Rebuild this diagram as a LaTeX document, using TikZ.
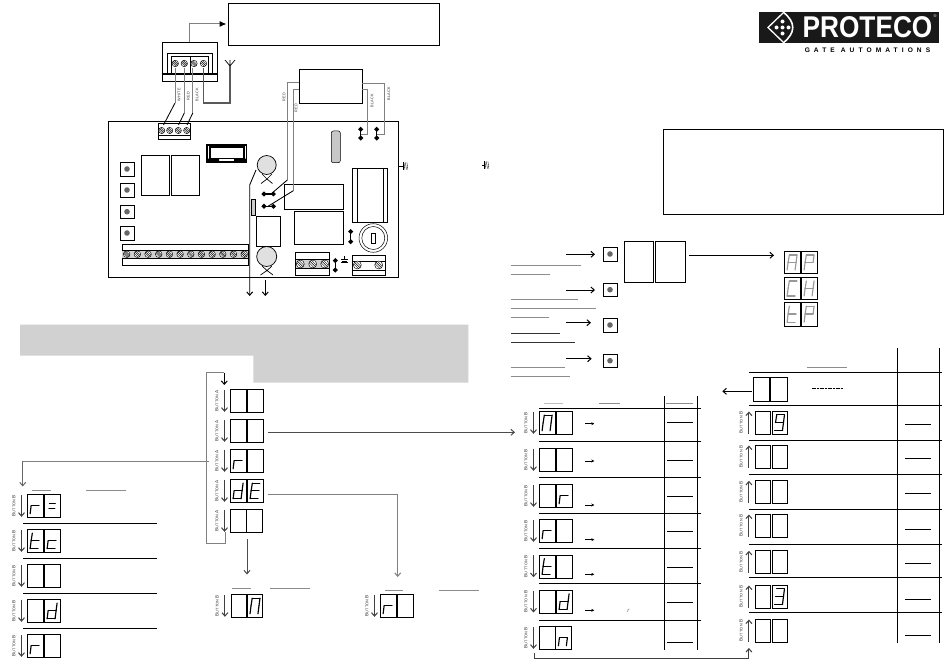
\documentclass[tikz,border=0pt]{standalone}
\usepackage{fontspec}
\setmainfont{Liberation Sans}
\newfontfamily\lblfont[LetterSpace=8]{Liberation Sans}
\newfontfamily\logofont[LetterSpace=62]{Liberation Sans}
\usetikzlibrary{arrows.meta,calc}
\definecolor{wire}{gray}{.5}
\definecolor{band}{gray}{.82}
\tikzset{
 x=1pt,y=-1pt,
 line width=.85pt,
 dbox/.style={draw,inner sep=0pt,outer sep=0pt,anchor=north west},
 seg/.style={line width=1.15pt,line cap=round,draw=#1},
 seg/.default=black,
 barb/.tip={Straight Barb[length=3.4pt,width=6pt,line width=1pt]},
 dn/.style={-barb},
 up/.style={barb-},
 grayline/.style={draw=wire,line width=1pt},
 stub/.style={draw=black!45,line width=.8pt},
 thin1/.style={line width=.85pt},
 jump/.style={line width=1.4pt,{Circle[length=4.6pt,width=4.6pt]}-{Circle[length=4.6pt,width=4.6pt]}},
 btn/.style={inner sep=0pt,text=black!80,font=\lblfont\fontsize{3.8}{4}\selectfont},
}
% segment paths of a seven-segment digit, local to a 15.3 x 23 box
\newcommand\sga{(5,3.8)--(12.5,3.8)}
\newcommand\sgb{(12.7,3.8)--(11.7,11.5)}
\newcommand\sgc{(11.7,11.5)--(10.7,19.5)}
\newcommand\sgd{(2.8,19.5)--(10.7,19.5)}
\newcommand\sge{(3.8,11.5)--(2.8,19.5)}
\newcommand\sgf{(5,3.8)--(3.8,11.5)}
\newcommand\sgg{(3.8,11.5)--(11.7,11.5)}
\newcommand\sgp{(5,9.5)--(11,9.5)}
\newcommand\sgq{(4.5,14.5)--(10.5,14.5)}
\expandafter\def\csname sg\endcsname{}
% \dg{name}{x}{y}{w}{h}{colour}{segments}
\newcommand\dg[7]{%
 \node[dbox,minimum width=#4pt,minimum height=#5pt] (#1) at (#2,#3) {};
 \begin{scope}[shift={(#2,#3)},xscale=#4/15.3,yscale=#5/23]
  \foreach \s in {#7}{\expandafter\let\expandafter\cursg\csname sg\s\endcsname
    \draw[seg=#6] \cursg;}
 \end{scope}}
% \drow[offset]{name}{x}{y}{left segs}{right segs}{dn|up}{letter}
\newcommand\btntext[1]{{\fontsize{4.6}{4}\selectfont B}UTTON {\fontsize{4.6}{4}\selectfont #1}}
\newcommand\drow[8][17]{%
 \dg{#2a}{#3}{#4}{15.4}{23}{black}{#5}
 \dg{#2b}{{#3+#1}}{#4}{15.4}{23}{black}{#6}
 \draw[#7,line width=.9pt,black!75] ([xshift=-5.8pt,yshift=-.5pt]#2a.north west) -- ([xshift=-5.8pt,yshift=.5pt]#2a.south west);
 \node[btn,rotate=90] (#2l) at ([xshift=-13.6pt]#2a.west) {\btntext{#8}};}
\newcommand\screw[3]{%
 \draw[line width=.45pt,fill=white] (#1,#2) circle (#3);
 \draw[line width=.55pt] ($(#1,#2)+(-.7*#3,-.7*#3)$)--($(#1,#2)+(.7*#3,.7*#3)$);
 \draw[line width=.4pt] ($(#1,#2)+(-.3*#3,-.9*#3)$)--($(#1,#2)+(.9*#3,.3*#3)$);
 \draw[line width=.4pt] ($(#1,#2)+(-.9*#3,-.3*#3)$)--($(#1,#2)+(.3*#3,.9*#3)$);}
\newcommand\bx[5]{\node[dbox,minimum width={(#4-#2)*1pt},minimum height={(#5-#3)*1pt}] (#1) at (#2,#3) {};}
\newcommand\gnd[2]{%
 \draw[line width=.45pt] (#1,{#2-4})--(#1,{#2+4});
 \foreach \d in {1.4,2.9,4.4}{\draw[line width=.35pt] ({#1+\d-.5},{#2-3.5})--({#1+\d+.5},{#2+3.5});}}
\newcommand\btnsw[3]{\bx{#1}{#2}{#3}{#2+13.4}{#3+13.4}
 \fill[black!60] (#1) circle (2.8);}
\begin{document}
\begin{tikzpicture}
\useasboundingbox (0,0) rectangle (950,666);
\fill[white] (0,0) rectangle (950,666);

% ---------- grey banner
\fill[band] (20,324.7) -- (468.3,324.7) -- (468.3,382.7) -- (253.3,382.7) -- (253.3,355.7) -- (20,355.7) -- cycle;

% ---------- logo
\fill[black!90] (759.3,11.7) rectangle (939.3,43.3);
\draw[white,line width=1.3pt] (783,13) -- (768,27.5) -- (783,42);
\draw[white,line width=1.6pt] (783,12) .. controls (796,22) and (796,33) .. (783,43);
\foreach \p in {(782.5,21.5),(782.5,33.5),(776.5,27.5),(788.5,27.5),(782.5,27.5)}{\fill[white] \p circle (2);}
\node[text=white,inner sep=0pt,font=\bfseries\fontsize{30}{30}\selectfont,xscale=.875] (logoname) at (867.5,27.5) {PROTECO};
\node[text=white,inner sep=0pt,font=\fontsize{4}{4}\selectfont] (logoreg) at (935,15.8) {®};
\node[inner sep=0pt,font=\logofont\bfseries\fontsize{6.6}{7}\selectfont] (logosub) at (867.5,50) {GATE AUTOMATIONS};

% ---------- top note box, wiring block
\bx{note}{228.5}{3.5}{439.5}{45}
\bx{block}{162}{42}{217}{81}
\bx{blockin}{167.5}{53}{212.5}{74}
\draw (171.5,56) rectangle (208.5,74) (190.5,56)--(190.5,74);
\draw[line width=1.4pt] (162,74) -- (217,74);
\foreach \x in {175.3,184.3,194,203.5}{\screw{\x}{63.5}{3.2}}
\draw[grayline,-{Latex[length=7pt,width=6pt,black]}] (block.north) |- (226.5,24);
\coordinate (antbase) at (230,103);
\coordinate (anttop) at (230,60);
\draw[line width=1.2pt,black!65] (203.5,68) -- (203.5,103) -- (antbase) -- (230,66);
\draw[line width=.7pt] (230,66) -- (225,60) (230,66) -- (235,60) (anttop)--(230,66);
\draw[grayline] (175,68) -- (175,103);
\draw[thin1] (175,103) -- (163.5,125);
\draw[grayline] (184.3,68) -- (184.3,113);
\draw[thin1] (184.3,113) -- (178.5,125);
\draw[grayline] (192.8,68) -- (192.8,113);
\draw[thin1] (192.8,113) -- (187,125);
\foreach \t/\x/\y in {WHITE/179/95,RED/188.3/96,BLACK/197/95}{
 \node[btn,rotate=90] (w\t) at (\x,\y) {\t};}

% ---------- controller board
\bx{board}{108.5}{121.5}{398.5}{277.5}
\bx{termtop}{158}{123.5}{190.5}{139.5}
\draw (158,135)--(190.5,135);
\foreach \x in {161.7,169.7,178.3,186.7}{\screw{\x}{130.5}{3.1}}
\draw[line width=1.5pt] (207,145) rectangle (246.3,162);
\draw[line width=1.1pt,fill=white] (210,147) rectangle (244,158.7);
\fill (207,158.7) rectangle (219,162.5) (234,158.7) rectangle (246.3,162.5);
\bx{dispa}{141.3}{155.3}{168.7}{195.3}
\bx{dispb}{171.3}{155.3}{198.7}{195.3}
\btnsw{b1}{120.3}{162.3}
\btnsw{b2}{120.3}{183.3}
\btnsw{b3}{120.3}{205}
\btnsw{b4}{120.3}{226.3}
\bx{longterm}{121.7}{244.3}{248.5}{265.3}
\fill[band] (122,250) rectangle (248,258.3);
\draw (121.7,250)--(248.5,250) (121.7,258.3)--(248.5,258.3);
\foreach \i in {0,...,11}{\screw{{126.7+\i*10.68}}{254.2}{3.3}}
\draw[line width=.7pt,fill=black!12] (266.7,165) circle (9.5);
\draw[line width=.7pt] (262,174) -- (267,179) -- (261,183.5) (272,174)--(267,179)--(272.5,183.5);
\draw[line width=.7pt,fill=black!12] (266.7,256.5) circle (10);
\draw[line width=.7pt] (262,266) -- (267,270.5) -- (260.5,275) (272,266)--(267,270.5)--(273,275);
\coordinate (outa) at (249.7,296);
\coordinate (outb) at (265.3,296);
\draw[thin1,dn] (256,170) -- (249.7,185) -- (outa);
\draw[thin1,dn] (265.3,280) -- (outb);
\draw[fill=black!20,line width=.5pt] (251.7,199) rectangle (255.3,215);
\bx{smallbox}{256.3}{216.3}{279.7}{245.7}
\bx{rela}{284.3}{184.3}{343.3}{209.3}
\bx{relb}{294.3}{211.3}{343.3}{244.3}
\bx{trafo}{299.3}{69.3}{361.7}{103.3}
\draw[jump] (261.7,194) coordinate (j1a) -- (275.7,194) coordinate (j1b);
\draw[jump] (261.7,206.3) coordinate (j2a) -- (275.7,206.3) coordinate (j2b);
\draw[grayline] (299.3,82.7) -- (287.3,82.7) -- (287.3,180);
\draw[thin1] (287.3,180) -- (271,194);
\draw[grayline] (299.3,90) -- (293.3,90) -- (293.3,190.7);
\draw[thin1] (293.3,190.7) -- (268,206.3);
\node[btn,rotate=90] (rl1) at (284,97) {RED};
\node[btn,rotate=90] (rl2) at (296,108) {RED};
\node[btn,rotate=90] (bl1) at (372,101) {BLACK};
\node[btn,rotate=90] (bl2) at (388.7,94) {BLACK};
\draw[jump] (360.7,127) coordinate (j3a) -- (360.7,140.3) coordinate (j3b);
\draw[jump] (376.7,127) coordinate (j4a) -- (376.7,140.3) coordinate (j4b);
\draw[grayline] (361.7,89.3) -- (367.3,89.3) -- (367.3,134.3) -- (360.7,134.3);
\draw[grayline] (361.7,83.3) -- (384.3,83.3) -- (384.3,134.3) -- (376.7,134.3);
\draw[line width=.5pt,fill=black!22,rounded corners=2pt] (331.3,131) rectangle (340.3,162.7);
\bx{relay}{352.3}{167.7}{387.3}{222.3}
\draw (356.7,167.7)--(356.7,222.3) (383.3,167.7)--(383.3,222.3);
\draw[line width=.5pt] (373.3,238) circle (14.3);
\draw[line width=.5pt] (373.3,238) circle (11.5);
\draw (371.3,232.7) rectangle (375.3,243.3);
\draw[jump] (350.7,229.3) -- (350.7,244);
\bx{termc}{295.3}{252.3}{329.3}{275.3}
\draw (295.3,259.3)--(329.3,259.3) (295.3,268.3)--(329.3,268.3);
\fill[band] (296,259.8) rectangle (329,267.8);
\foreach \x in {300.3,312.7,324.7}{\screw{\x}{264}{4}}
\draw[jump] (335.3,258.3) -- (335.3,272.3);
\draw[line width=.5pt] (344.5,256)--(344.5,259) (341,259.5)--(348,259.5) (342,261)--(347,261) (341,262.5)--(348,262.5);
\bx{termd}{352.3}{254.7}{384.7}{275.3}
\draw (352.3,260.7)--(384.7,260.7) (352.3,269.7)--(384.7,269.7);
\foreach \x in {357.3,378.7}{\screw{\x}{265}{4}}
\draw[line width=.6pt] (398.5,166)--(403,166);
\gnd{403}{166}
\draw[line width=.6pt] (482,165)--(484,165);
\gnd{484}{165}

% ---------- right info box and front panel
\bx{infobox}{663}{129}{943}{214}
\foreach \i/\y in {1/247.3,2/283,3/318.3,4/354}{\btnsw{s\i}{603.3}{\y}}
\coordinate (sa1) at (566,254.3);\coordinate (sa2) at (566,290);\coordinate (sa3) at (566,322.7);\coordinate (sa4) at (566,358.7);
\draw[thin1,dn] (sa1) -- (595,254.3);
\draw[thin1,dn] (sa2) -- (595,290);
\draw[thin1,dn] (sa3) -- (591,322.7);
\draw[thin1,dn] (sa4) -- (591.7,358.7);
\bx{pana}{624.3}{241.3}{653.4}{282.3}
\bx{panb}{655.6}{241.3}{684.7}{282.3}
\coordinate (panto) at (774,255.3);
\draw[thin1,dn] (689,255.3) -- (panto);
\dg{apa}{784.3}{251.3}{15.4}{22}{black!40}{a,b,c,e,f,g}
\dg{apb}{801.3}{251.3}{15.4}{22}{black!40}{a,b,e,f,g}
\dg{cha}{784.3}{277.3}{15.4}{22}{black!40}{a,d,e,f}
\dg{chb}{801.3}{277.3}{15.4}{22}{black!40}{b,c,e,f,g}
\dg{tpa}{784.3}{302.3}{15.4}{23.4}{black!40}{d,e,f,g}
\dg{tpb}{801.3}{302.3}{15.4}{23.4}{black!40}{a,b,e,f,g}
\foreach \y/\e in {265.3/580.7,274.3/550,299.7/578,308.7/596,317.7/549.3,367.3/565,376.3/570}{\draw[stub] (510.7,\y)--(\e,\y);}
\draw[line width=.7pt,black!80] (511.3,333.3)--(560,333.3) (511.3,342.3)--(574.7,342.3);

% ---------- central menu column
\drow{ca}{230.3}{389.3}{}{}{dn}{A}
\drow{cb}{230.3}{419.3}{}{}{dn}{A}
\drow{cc}{230.3}{449.3}{e,g}{}{dn}{A}
\drow{cd}{230.3}{479.3}{b,c,d,e,g}{a,d,e,f,g}{dn}{A}
\drow[16]{ce}{230.3}{509.3}{}{}{dn}{A}
\coordinate (loopin) at (224.3,385);
\draw[grayline] (225.7,532) -- (225.7,543) -- (206,543) -- (206,372.7) -- (224.3,372.7);
\draw[thin1,dn] (224.3,372.7) -- (loopin);
\coordinate (lefttop) at (22.7,486.5);
\draw[grayline] (209,461) -- (22.7,461);
\draw[line width=1.2pt,dn,black!60] (22.7,461) -- (lefttop);
\coordinate (tolist) at (515,432.3);
\draw[line width=.9pt,dn,black!70] (267.7,432.3) -- (tolist);
\coordinate (toradio) at (397.7,577);
\draw[grayline,dn] (267.7,494.7) -| (toradio);
\coordinate (tobottom) at (247,574.5);
\draw[thin1,black!70,dn] (247,539) -- (tobottom);

% ---------- left column
\drow{la}{27.3}{494.3}{e,g}{p,q}{dn}{B}
\drow{lb}{27.3}{529.3}{d,e,f,g}{d,e,g}{dn}{B}
\drow{lc}{27.3}{564.3}{}{}{dn}{B}
\drow{ld}{27.3}{599.3}{}{b,c,d,e,g}{dn}{B}
\drow{le}{27.3}{634.3}{e,g}{}{dn}{B}
\foreach \y in {523,558.3,593.3,628.3}{\draw (23.3,\y)--(156.7,\y);}
\draw[stub] (31.7,490)--(50.7,490) (86.3,490)--(126,490);

% ---------- lower middle displays
\drow[16.5]{ma}{230.7}{594.3}{}{a,b,c,e,f}{dn}{B}
\drow{mb}{380.3}{594.3}{e,g}{}{dn}{B}
\draw[stub] (232,588)--(250.7,588) (270,588)--(309.7,588);
\draw[stub] (385,590.3)--(403.3,590.3) (439.3,590.3)--(479,590.3);

% ---------- table, left half
\drow{ra}{539.3}{411.3}{a,b,c,e,f}{}{dn}{B}
\drow{rb}{539.3}{448.3}{}{}{dn}{B}
\drow{rc}{539.3}{484.3}{}{e,g}{dn}{B}
\drow{rd}{539.3}{519.3}{e,g}{}{dn}{B}
\drow{re}{539.3}{554.7}{d,e,f,g}{}{dn}{B}
\drow{rf}{539.3}{590}{}{b,c,d,e,g}{dn}{B}
\drow[16.3]{rg}{539.3}{626.3}{}{c,e,g}{dn}{B}
\foreach \y in {408.3,441.3,477.3,513.3,548.3,583.3,620.3}{\draw (539.3,\y)--(700.7,\y);}
\draw (663.7,396)--(663.7,650) (697.3,396)--(697.3,650);
\foreach \y in {422.3,460.3,496.3,531.3,567,602.3,642.3}{\draw (667,\y)--(693.3,\y);}
\foreach \y in {423.7,461,505,539.7,574.3,610.3}{\draw[line width=.9pt,-{Stealth[length=3pt,width=3pt]}] (585,\y)--(594.3,\y);}
\draw[stub,black!25] (544,403.7)--(562.7,403.7);
\draw[stub] (598.7,403.7)--(620,403.7) (666,403.7)--(692.7,403.7);
\node[inner sep=0pt,font=\fontsize{6}{6}\selectfont\itshape,text=black!60] (smallr) at (628.3,611) {r};

% ---------- table, right half
\bx{tn1}{753.3}{377.3}{769.3}{400.7}
\bx{tn2}{770.3}{377.3}{786.7}{400.7}
\draw[line width=1.3pt] (769.8,377.3)--(769.8,400.7);
\coordinate (tleft) at (722.3,391.3);
\draw[thin1,dn] (751.7,391.3) -- (tleft);
\draw[line width=.6pt,dash pattern=on 1.2pt off .4pt] (811.7,388.3)--(842.7,388.3);
\drow{ua}{754.7}{411}{}{a,b,c,d,f,g}{up}{B}
\drow{ub}{754.7}{445}{}{}{up}{B}
\drow{uc}{754.7}{480.3}{}{}{up}{B}
\drow{ud}{754.7}{514}{}{}{up}{B}
\drow{ue}{754.7}{550.3}{}{}{up}{B}
\drow{uf}{754.7}{585}{}{a,b,c,d,g}{up}{B}
\drow{ug}{754.7}{619}{}{}{up}{B}
\foreach \y in {372.3,405.3,440.3,474.3,509.3,544.3,577.3,612.3}{\draw (749.3,\y)--(941.7,\y);}
\draw (897.3,348.3)--(897.3,643.3) (939.3,348.3)--(939.3,643.3);
\foreach \y in {424.3,458.3,493.3,529.3,563.3,599.3,635}{\draw (905,\y)--(931.3,\y);}
\draw[stub] (807,367)--(846.7,367);
\coordinate (lbottom) at (534,653);
\coordinate (rbottom) at (748.9,648);
\draw[line width=.9pt,black!75] (lbottom) -- (534,658.3) -- (748.9,658.3);
\draw[line width=.9pt,black!75,dn] (748.9,658.3) -- (rbottom);
\end{tikzpicture}
\end{document}
